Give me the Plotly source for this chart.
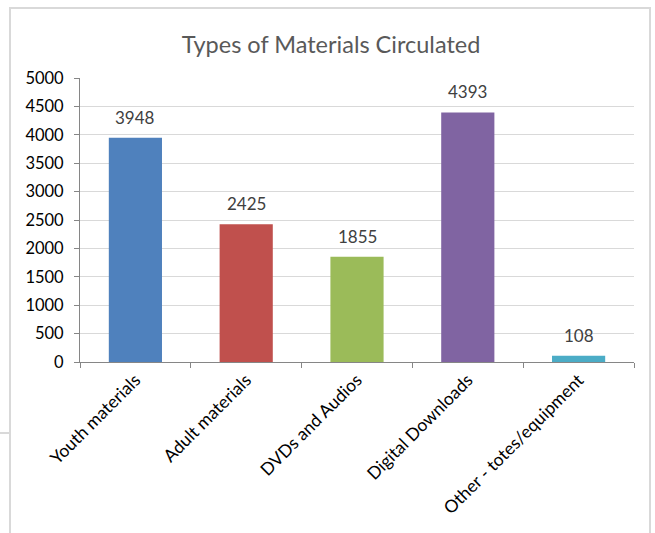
import plotly.graph_objects as go

categories = ["Youth materials", "Adult materials", "DVDs and Audios", "Digital Downloads", "Other - totes/equipment"]
values = [3948, 2425, 1855, 4393, 108]
colors = ["#4F81BD", "#C0504D", "#9BBB59", "#8064A2", "#4BACC6"]
y_ticks = [0, 500, 1000, 1500, 2000, 2500, 3000, 3500, 4000, 4500, 5000]

W, H = 655, 533
font_family = "Lato, 'Open Sans', sans-serif"

fig = go.Figure()
fig.add_trace(go.Bar(
    x=categories, y=values, marker=dict(color=colors, line=dict(width=0)),
    width=0.48, hoverinfo="skip",
))

for c, v in zip(categories, values):
    fig.add_annotation(x=c, y=v, text=str(v), showarrow=False, yanchor="bottom",
                       yshift=8, font=dict(size=17, color="#404040", family=font_family))

fig.update_layout(
    width=W, height=H,
    margin=dict(l=0, r=0, t=0, b=0),
    paper_bgcolor="white", plot_bgcolor="white",
    showlegend=False,
    bargap=0.52,
    title=dict(text="Types of Materials Circulated", x=331 / W, xanchor="center",
               y=1 - 45 / H, yanchor="middle",
               font=dict(size=23.5, color="#595959", family=font_family)),
    xaxis=dict(domain=[80 / W, 634 / W], type="category", automargin=False,
               showline=True, linecolor="#868686", linewidth=1,
               ticks="outside", ticklen=5, tickcolor="#868686", tickson="boundaries",
               tickangle=-45, tickfont=dict(size=17.5, color="#000000", family=font_family),
               showgrid=False),
    yaxis=dict(domain=[171 / H, 455 / H], range=[0, 5000], automargin=False,
               tickvals=y_ticks, ticktext=[str(t) for t in y_ticks],
               showline=True, linecolor="#868686", linewidth=1,
               ticks="outside", ticklen=5, tickcolor="#868686", ticklabelstandoff=7,
               showgrid=True, gridcolor="#d9d9d9", gridwidth=1,
               zeroline=False,
               tickfont=dict(size=16.5, color="#000000", family=font_family)),
    shapes=[
        dict(type="rect", xref="paper", yref="paper",
             x0=10 / W, x1=650 / W, y0=-0.05, y1=1 - 8 / H,
             line=dict(color="#d9d9d9", width=2), fillcolor="rgba(0,0,0,0)", layer="below"),
        dict(type="line", xref="paper", yref="paper",
             x0=0, x1=10 / W, y0=1 - 433 / H, y1=1 - 433 / H,
             line=dict(color="#d9d9d9", width=2)),
    ],
)

fig.write_html("out.html")
